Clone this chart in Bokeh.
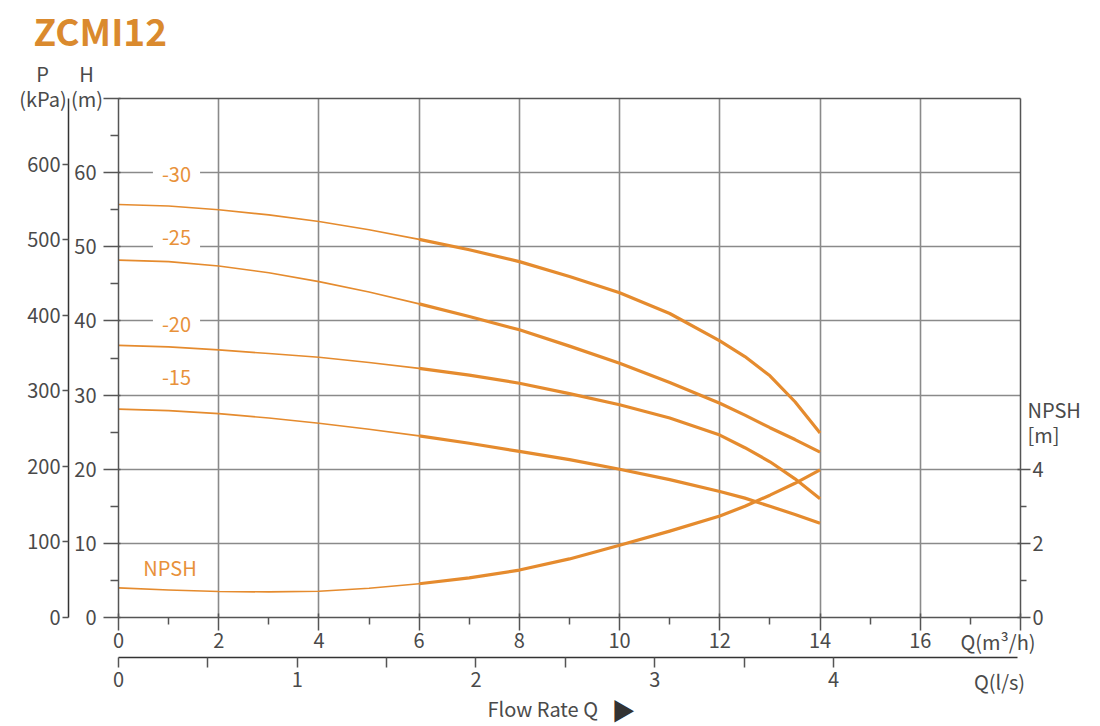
from bokeh.plotting import figure
from bokeh.models import (LinearAxis, Range1d, FixedTicker, Label, Grid)
from bokeh.embed import file_html
from bokeh.resources import INLINE

FONT = "Noto Sans CJK SC"
ORANGE = "#E58B2E"
LABEL_ORANGE = "#E8913A"
TITLE_ORANGE = "#DA8A2E"
TXT = "#4a4a4a"
AXIS = "#555555"
GRID = "#8a8a8a"

# ---------------- data ----------------
q = [0, 1, 2, 3, 4, 5, 6, 7, 8, 9, 10, 11, 12, 12.5, 13, 13.5, 14]          # m3/h
h_30 = [55.7, 55.5, 55.0, 54.3, 53.4, 52.3, 51.0, 49.6, 48.0, 46.0, 43.8, 41.0, 37.3, 35.2, 32.6, 29.1, 24.9]
h_25 = [48.2, 48.0, 47.4, 46.5, 45.3, 43.9, 42.3, 40.6, 38.8, 36.6, 34.3, 31.7, 28.9, 27.3, 25.6, 24.0, 22.3]
h_20 = [36.7, 36.5, 36.1, 35.6, 35.1, 34.4, 33.6, 32.7, 31.6, 30.2, 28.7, 26.9, 24.6, 22.9, 21.0, 18.7, 16.0]
h_15 = [28.1, 27.9, 27.5, 26.9, 26.2, 25.4, 24.5, 23.5, 22.4, 21.3, 20.0, 18.6, 17.0, 16.1, 15.0, 13.9, 12.7]
npsh = [0.80, 0.74, 0.70, 0.69, 0.71, 0.79, 0.91, 1.07, 1.28, 1.58, 1.95, 2.33, 2.74, 3.00, 3.30, 3.62, 3.98]
curve_names = ["-30", "-25", "-20", "-15"]
h_ticks = [0, 10, 20, 30, 40, 50, 60, 70]
h_minor = [5, 15, 25, 35, 45, 55, 65]
p_ticks = [0, 100, 200, 300, 400, 500, 600]
q_ticks = [0, 2, 4, 6, 8, 10, 12, 14, 16, 18]
q_minor = [1, 3, 5, 7, 9, 11, 13, 15, 17]
ls_ticks = [0, 1, 2, 3, 4]
ls_minor = [0.5, 1.5, 2.5, 3.5]
npsh_ticks = [0, 2, 4]
npsh_minor = [1, 3]
KPA_PER_M = 9.81
NPSH_SCALE = 5.0          # 1 m NPSH drawn as 5 m head
LS_FACTOR = 3.567         # m3/h per l/s as drawn
Q_MAX = 18
H_MAX = 70

# plot area 118..1020 px horizontally, 98..617 px vertically, on a 1100x726 canvas
PX_Q = (1020 - 118) / Q_MAX
PX_H = (617 - 98) / H_MAX
X0, X1 = -118 / PX_Q, (1100 - 118) / PX_Q
Y0, Y1 = -(726 - 617) / PX_H, 617 / PX_H


def qx(px):
    return (px - 118) / PX_Q


def hy(py):
    return (617 - py) / PX_H


p = figure(width=1100, height=726, x_range=Range1d(X0, X1), y_range=Range1d(Y0, Y1),
           output_backend="svg", toolbar_location=None,
           x_axis_type=None, y_axis_type=None, min_border=0)
p.extra_y_ranges = {"P": Range1d(Y0 * KPA_PER_M, Y1 * KPA_PER_M),
                    "npsh": Range1d(Y0 / NPSH_SCALE, Y1 / NPSH_SCALE)}
p.extra_x_ranges = {"ls": Range1d(X0 / LS_FACTOR, X1 / LS_FACTOR)}
p.outline_line_color = None
p.background_fill_color = "white"
p.border_fill_color = "white"

# grids
gx = q_ticks[1:-1]
gy = h_ticks[1:-1]
if "cross_bounds" in Grid.properties():
    p.add_layout(Grid(dimension=0, ticker=FixedTicker(ticks=gx), cross_bounds=(0, H_MAX),
                      grid_line_color=GRID, grid_line_width=1.6))
    p.add_layout(Grid(dimension=1, ticker=FixedTicker(ticks=gy), cross_bounds=(0, Q_MAX),
                      grid_line_color=GRID, grid_line_width=1.6))
else:
    p.segment(x0=gx, y0=[0] * len(gx), x1=gx, y1=[H_MAX] * len(gx),
              line_color=GRID, line_width=1.6, level="underlay")
    p.segment(x0=[0] * len(gy), y0=gy, x1=[Q_MAX] * len(gy), y1=gy,
              line_color=GRID, line_width=1.6, level="underlay")


def style_axis(ax, standoff):
    ax.axis_line_color = AXIS
    ax.axis_line_width = 1.5
    ax.major_tick_line_color = AXIS
    ax.major_tick_line_width = 1.5
    ax.minor_tick_line_color = AXIS
    ax.minor_tick_line_width = 1.5
    ax.major_label_text_font = FONT
    ax.major_label_text_font_size = "20px"
    ax.major_label_text_color = TXT
    ax.major_label_standoff = standoff


# H axis on the left edge of the plot area
hax = LinearAxis(ticker=FixedTicker(ticks=h_ticks, minor_ticks=h_minor),
                 major_label_overrides={70: ""}, fixed_location=0, bounds=(0, H_MAX))
style_axis(hax, 7)
hax.major_tick_in = 2
hax.major_tick_out = 15
hax.minor_tick_in = 0
hax.minor_tick_out = 8
p.add_layout(hax, "left")

# P axis (outer left)
pax = LinearAxis(y_range_name="P", ticker=FixedTicker(ticks=p_ticks, minor_ticks=[]),
                 fixed_location=qx(68), bounds=(0, H_MAX * KPA_PER_M))
style_axis(pax, 2)
pax.axis_line_color = "#333333"
pax.major_tick_in = 0
pax.major_tick_out = 6
p.add_layout(pax, "left")

# top border
tax = LinearAxis(ticker=FixedTicker(ticks=[]), fixed_location=H_MAX, bounds=(0, Q_MAX))
style_axis(tax, 2)
p.add_layout(tax, "above")

# Q m3/h axis
qax = LinearAxis(ticker=FixedTicker(ticks=q_ticks, minor_ticks=q_minor),
                 major_label_overrides={18: ""}, fixed_location=0, bounds=(0, Q_MAX))
style_axis(qax, 2)
qax.major_tick_in = 4
qax.major_tick_out = 13
qax.minor_tick_in = 0
qax.minor_tick_out = 7
p.add_layout(qax, "below")

# Q l/s axis
lax = LinearAxis(x_range_name="ls", ticker=FixedTicker(ticks=ls_ticks, minor_ticks=ls_minor),
                 fixed_location=hy(656.5), bounds=(0, (Q_MAX - 0.05) / LS_FACTOR))
style_axis(lax, 5)
lax.axis_line_color = "#333333"
lax.major_tick_in = 0
lax.major_tick_out = 10
lax.minor_tick_in = 0
lax.minor_tick_out = 10
p.add_layout(lax, "below")

# NPSH axis (right edge)
nax = LinearAxis(y_range_name="npsh", ticker=FixedTicker(ticks=npsh_ticks, minor_ticks=npsh_minor),
                 fixed_location=Q_MAX, bounds=(0, H_MAX / NPSH_SCALE))
style_axis(nax, 2)
nax.major_tick_in = 3
nax.major_tick_out = 10
nax.minor_tick_in = 0
nax.minor_tick_out = 6
p.add_layout(nax, "right")

# curves: thin part up to 6 m3/h, thick part beyond
split = q.index(6)
for hs in (h_30, h_25, h_20, h_15):
    p.line(q[:split + 1], hs[:split + 1], line_color=ORANGE, line_width=1.6, line_join="round")
    p.line(q[split:], hs[split:], line_color=ORANGE, line_width=3.2, line_join="round")
p.line(q[:split + 1], npsh[:split + 1], y_range_name="npsh", line_color=ORANGE,
       line_width=1.6, line_join="round")
p.line(q[split:], npsh[split:], y_range_name="npsh", line_color=ORANGE,
       line_width=3.2, line_join="round")

# curve labels (white box interrupts the grid line)
label_pos = [(176, 174), (176, 241), (176, 324), (176, 377)]
label_pad = [(4, 4), (2, 10), (4, 4), (0, 0)]
for name, (lx, ly), (pt, pb) in zip(curve_names, label_pos, label_pad):
    p.add_layout(Label(x=qx(lx), y=hy(ly), text=name, text_align="center", text_baseline="middle",
                       text_font=FONT, text_font_size="20px", text_color=LABEL_ORANGE,
                       background_fill_color="white",
                       padding=dict(left=9, right=9, top=pt, bottom=pb)))
p.add_layout(Label(x=qx(169.5), y=hy(567), text="NPSH", text_align="center",
                   text_baseline="middle", text_font=FONT, text_font_size="20px",
                   text_color=LABEL_ORANGE))


def txt(px, py, s, size="20px", align="center", color=TXT, style="normal"):
    p.add_layout(Label(x=qx(px), y=hy(py), text=s, text_align=align, text_baseline="middle",
                       text_font=FONT, text_font_size=size, text_color=color,
                       text_font_style=style))


txt(33, 29, "ZCMI12", size="37px", align="left", color=TITLE_ORANGE, style="bold")
txt(42, 73, "P")
txt(42.5, 98, "(kPa)")
txt(86, 73, "H")
txt(86.5, 98, "(m)")
txt(997.5, 641, "Q(m³/h)")
txt(999, 681, "Q(l/s)")
txt(1027, 409, "NPSH", align="left")
txt(1027, 434, "[m]", align="left")
txt(487, 708, "Flow Rate Q", align="left")
txt(611, 709, "▶", size="24px", align="left", color="#333333")

open("out.html", "w").write(file_html(p, INLINE))
